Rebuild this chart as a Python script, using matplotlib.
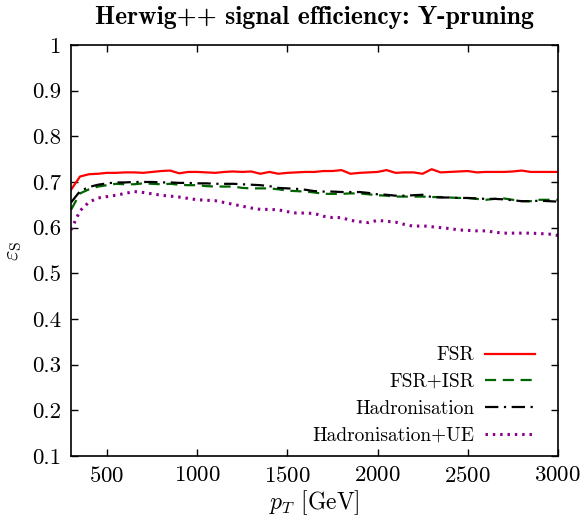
import matplotlib
matplotlib.use('Agg')
import matplotlib.pyplot as plt

plt.rcParams['font.family'] = 'serif'
plt.rcParams['font.serif'] = ['cmr10']
plt.rcParams['mathtext.fontset'] = 'cm'
plt.rcParams['axes.formatter.use_mathtext'] = True

pt = [300, 350, 400, 450, 500, 550, 600, 650, 700, 750, 800, 850, 900, 950,
      1000, 1050, 1100, 1150, 1200, 1250, 1300, 1350, 1400, 1450, 1500, 1550,
      1600, 1650, 1700, 1750, 1800, 1850, 1900, 1950, 2000, 2050, 2100, 2150,
      2200, 2250, 2300, 2350, 2400, 2450, 2500, 2550, 2600, 2650, 2700, 2750,
      2800, 2850, 2900, 2950, 3000]

fsr = [0.683, 0.712, 0.717, 0.718, 0.720, 0.720, 0.721, 0.721, 0.720, 0.722,
       0.724, 0.725, 0.719, 0.722, 0.722, 0.721, 0.720, 0.722, 0.723, 0.722,
       0.723, 0.718, 0.722, 0.718, 0.720, 0.721, 0.722, 0.722, 0.724, 0.724,
       0.726, 0.718, 0.720, 0.721, 0.722, 0.726, 0.720, 0.721, 0.721, 0.718,
       0.728, 0.721, 0.722, 0.723, 0.724, 0.721, 0.722, 0.722, 0.722, 0.723,
       0.725, 0.722, 0.722, 0.722, 0.722]

fsr_isr = [0.639, 0.675, 0.684, 0.690, 0.693, 0.696, 0.695, 0.695, 0.697, 0.696,
           0.695, 0.696, 0.694, 0.693, 0.693, 0.691, 0.690, 0.690, 0.690, 0.687,
           0.686, 0.686, 0.686, 0.684, 0.681, 0.680, 0.679, 0.677, 0.674, 0.674,
           0.674, 0.675, 0.675, 0.673, 0.671, 0.670, 0.668, 0.668, 0.668, 0.668,
           0.667, 0.667, 0.666, 0.665, 0.665, 0.663, 0.661, 0.663, 0.664, 0.661,
           0.658, 0.658, 0.661, 0.661, 0.661]

hadr = [0.655, 0.680, 0.689, 0.694, 0.697, 0.699, 0.699, 0.700, 0.700, 0.700,
        0.699, 0.699, 0.698, 0.698, 0.697, 0.697, 0.696, 0.696, 0.696, 0.695,
        0.694, 0.693, 0.691, 0.687, 0.686, 0.685, 0.683, 0.680, 0.679, 0.679,
        0.678, 0.678, 0.678, 0.676, 0.673, 0.672, 0.670, 0.670, 0.671, 0.672,
        0.667, 0.666, 0.666, 0.665, 0.665, 0.664, 0.663, 0.663, 0.662, 0.660,
        0.658, 0.658, 0.659, 0.658, 0.657]

hadr_ue = [0.595, 0.637, 0.656, 0.665, 0.668, 0.671, 0.675, 0.679, 0.677, 0.674,
           0.671, 0.669, 0.667, 0.664, 0.661, 0.660, 0.659, 0.655, 0.651, 0.647,
           0.643, 0.640, 0.640, 0.639, 0.635, 0.632, 0.632, 0.631, 0.625, 0.622,
           0.622, 0.616, 0.613, 0.611, 0.616, 0.614, 0.612, 0.607, 0.603, 0.604,
           0.602, 0.600, 0.598, 0.595, 0.594, 0.593, 0.593, 0.590, 0.588, 0.588,
           0.588, 0.588, 0.587, 0.586, 0.583]

fig = plt.figure(figsize=(5.83, 5.17), dpi=100)
ax = fig.add_axes([0.1218, 0.118, 0.835, 0.795])

ax.plot(pt, fsr, color='#ff0000', lw=1.6, label='FSR')
ax.plot(pt, fsr_isr, color='#006400', lw=1.6, dashes=(5, 3), label='FSR+ISR')
ax.plot(pt, hadr, color='black', lw=1.6, dashes=(6, 2.5, 1, 2.5), label='Hadronisation')
ax.plot(pt, hadr_ue, color='#8b008b', lw=2.2, dashes=(0.8, 1.6), label='Hadronisation+UE')

ax.set_xlim(300, 3000)
ax.set_ylim(0.1, 1.0)
ax.set_xticks([500, 1000, 1500, 2000, 2500, 3000])
ax.set_yticks([0.1, 0.2, 0.3, 0.4, 0.5, 0.6, 0.7, 0.8, 0.9, 1.0])
ax.set_yticklabels(['0.1', '0.2', '0.3', '0.4', '0.5', '0.6', '0.7', '0.8', '0.9', '1'])
ax.tick_params(direction='in', top=True, right=True, length=5, width=1,
               labelsize=16.5, pad=7)
for s in ax.spines.values():
    s.set_linewidth(1.2)

ax.set_xlabel(r'$p_T$ [GeV]', fontsize=17, labelpad=2)
ax.set_ylabel(r'$\varepsilon_{\rm S}$', fontsize=16, labelpad=6)
ax.set_title('Herwig++ signal efficiency: Y-pruning', fontfamily='cmb10',
             fontsize=18.5, pad=15)

ax.legend(loc='lower right', frameon=False, markerfirst=False, fontsize=14,
          handlelength=2.6, handletextpad=0.55, labelspacing=0.45,
          borderaxespad=0.2, bbox_to_anchor=(0.978, 0.0))

fig.savefig('out.png', dpi=100)
